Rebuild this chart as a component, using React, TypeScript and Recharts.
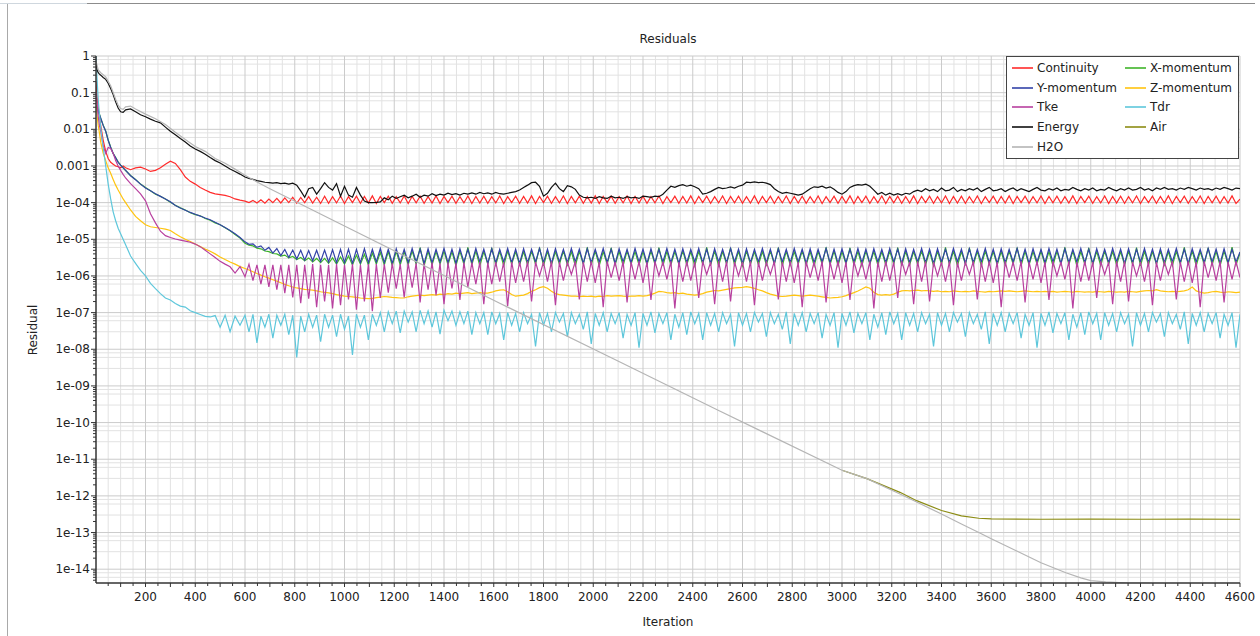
import React from "react";
import { LineChart, Line, XAxis, YAxis, CartesianGrid } from "recharts";

const FONT = "'DejaVu Sans', Verdana, sans-serif";

// iterations 1..580 sampled unevenly, then every 16 up to 4600
const earlyIterations = [
  1, 5, 10, 15, 20, 30, 40, 50, 60, 70, 80, 90, 100, 110, 120, 140, 160, 180, 200,
  220, 240, 260, 280, 300, 320, 340, 360, 380, 400, 420, 440, 460, 480, 500, 520,
  540, 560, 580,
];
const lateIterations = Array.from({ length: 251 }, (_, i) => 600 + 16 * i);
const iterations = [...earlyIterations, ...lateIterations];

const continuity = [
  0.2, 0.08, 0.04, 0.022, 0.0126, 0.005, 0.0025, 0.0016, 0.00126, 0.00112, 0.001, 9.5e-4,
  8.9e-4, 1e-3, 8.9e-4, 7.9e-4, 8.9e-4, 9.3e-4, 8.3e-4, 7.1e-4, 7.6e-4, 8.9e-4, 1.12e-3,
  1.35e-3, 1.17e-3, 7.9e-4, 5e-4, 3.8e-4, 3.2e-4, 2.6e-4, 2.2e-4, 1.9e-4, 1.74e-4, 1.66e-4,
  1.58e-4, 1.45e-4, 1.26e-4, 1.17e-4,
  1.1e-4, 1.0e-4, 1.15e-4, 9.8e-5, 1.2e-4, 9.7e-5, 1.25e-4, 1.0e-4, 1.3e-4, 9.8e-5, // 600
  1.35e-4, 1.0e-4, 1.4e-4, 9.6e-5, 1.38e-4, 1.0e-4, 1.45e-4, 9.7e-5, 1.4e-4, 9.5e-5, // 760
  1.5e-4, 9.6e-5, 1.45e-4, 9.8e-5, 1.52e-4, 9.5e-5, 1.46e-4, 1.0e-4, 1.5e-4, 9.6e-5, // 920
  1.48e-4, 9.7e-5, 1.53e-4, 9.5e-5, 1.47e-4, 1.0e-4, 1.5e-4, 9.6e-5, 1.45e-4, 9.8e-5, // 1080
  1.52e-4, 9.5e-5, 1.48e-4, 9.9e-5, 1.5e-4, 9.6e-5, 1.46e-4, 9.7e-5, 1.53e-4, 9.5e-5, // 1240
  1.47e-4, 1.0e-4, 1.5e-4, 9.6e-5, 1.45e-4, 9.8e-5, 1.52e-4, 9.5e-5, 1.48e-4, 9.7e-5, // 1400
  1.5e-4, 9.6e-5, 1.45e-4, 9.8e-5, 1.52e-4, 9.5e-5, 1.46e-4, 1.0e-4, 1.5e-4, 9.6e-5, // 1560
  1.48e-4, 9.7e-5, 1.53e-4, 9.5e-5, 1.47e-4, 1.0e-4, 1.5e-4, 9.6e-5, 1.45e-4, 9.8e-5, // 1720
  1.52e-4, 9.5e-5, 1.48e-4, 9.9e-5, 1.5e-4, 9.6e-5, 1.46e-4, 9.7e-5, 1.53e-4, 9.5e-5, // 1880
  1.47e-4, 1.0e-4, 1.5e-4, 9.6e-5, 1.45e-4, 9.8e-5, 1.52e-4, 9.5e-5, 1.48e-4, 9.7e-5, // 2040
  1.5e-4, 9.6e-5, 1.45e-4, 9.8e-5, 1.52e-4, 9.5e-5, 1.46e-4, 1.0e-4, 1.5e-4, 9.6e-5, // 2200
  1.48e-4, 9.7e-5, 1.53e-4, 9.5e-5, 1.47e-4, 1.0e-4, 1.5e-4, 9.6e-5, 1.45e-4, 9.8e-5, // 2360
  1.52e-4, 9.5e-5, 1.48e-4, 9.9e-5, 1.5e-4, 9.6e-5, 1.46e-4, 9.7e-5, 1.53e-4, 9.5e-5, // 2520
  1.47e-4, 1.0e-4, 1.5e-4, 9.6e-5, 1.45e-4, 9.8e-5, 1.52e-4, 9.5e-5, 1.48e-4, 9.7e-5, // 2680
  1.5e-4, 9.6e-5, 1.45e-4, 9.8e-5, 1.52e-4, 9.5e-5, 1.46e-4, 1.0e-4, 1.5e-4, 9.6e-5, // 2840
  1.48e-4, 9.7e-5, 1.53e-4, 9.5e-5, 1.47e-4, 1.0e-4, 1.5e-4, 9.6e-5, 1.45e-4, 9.8e-5, // 3000
  1.52e-4, 9.5e-5, 1.48e-4, 9.9e-5, 1.5e-4, 9.6e-5, 1.46e-4, 9.7e-5, 1.53e-4, 9.5e-5, // 3160
  1.47e-4, 1.0e-4, 1.5e-4, 9.6e-5, 1.45e-4, 9.8e-5, 1.52e-4, 9.5e-5, 1.48e-4, 9.7e-5, // 3320
  1.5e-4, 9.6e-5, 1.45e-4, 9.8e-5, 1.52e-4, 9.5e-5, 1.46e-4, 1.0e-4, 1.5e-4, 9.6e-5, // 3480
  1.48e-4, 9.7e-5, 1.53e-4, 9.5e-5, 1.47e-4, 1.0e-4, 1.5e-4, 9.6e-5, 1.45e-4, 9.8e-5, // 3640
  1.52e-4, 9.5e-5, 1.48e-4, 9.9e-5, 1.5e-4, 9.6e-5, 1.46e-4, 9.7e-5, 1.53e-4, 9.5e-5, // 3800
  1.47e-4, 1.0e-4, 1.5e-4, 9.6e-5, 1.45e-4, 9.8e-5, 1.52e-4, 9.5e-5, 1.48e-4, 9.7e-5, // 3960
  1.5e-4, 9.6e-5, 1.45e-4, 9.8e-5, 1.52e-4, 9.5e-5, 1.46e-4, 1.0e-4, 1.5e-4, 9.6e-5, // 4120
  1.48e-4, 9.7e-5, 1.53e-4, 9.5e-5, 1.47e-4, 1.0e-4, 1.5e-4, 9.6e-5, 1.45e-4, 9.8e-5, // 4280
  1.52e-4, 9.5e-5, 1.48e-4, 9.9e-5, 1.5e-4, 9.6e-5, 1.46e-4, 9.7e-5, 1.53e-4, 9.5e-5, // 4440
  1.25e-4,
];

const xMomentum = [
  0.045, 0.039, 0.033, 0.026, 0.02, 0.013, 0.009, 0.0051, 0.0033, 0.0022, 0.0017, 0.0013,
  0.00105, 9e-4, 7.5e-4, 5.5e-4, 4.3e-4, 3.2e-4, 2.6e-4, 2.1e-4, 1.7e-4, 1.5e-4, 1.25e-4,
  1.03e-4, 8.5e-5, 7.2e-5, 6.3e-5, 5.3e-5, 4.7e-5, 4.4e-5, 3.7e-5, 3.3e-5, 2.8e-5, 2.5e-5,
  2.05e-5, 1.7e-5, 1.35e-5, 1.08e-5,
  7.8e-6, 6.9e-6, 6.6e-6, 5.7e-6, 5.5e-6, 4.8e-6, 4.6e-6, 4.1e-6, 4.0e-6, 3.5e-6, // 600
  3.7e-6, 3.1e-6, 3.4e-6, 2.8e-6, 3.2e-6, 2.6e-6, 3.1e-6, 2.4e-6, 3.0e-6, 2.3e-6, // 760
  3.0e-6, 2.2e-6, 3.1e-6, 2.1e-6, 3.3e-6, 2.1e-6, 3.5e-6, 2.0e-6, 3.7e-6, 2.1e-6, // 920
  3.9e-6, 2.0e-6, 4.2e-6, 2.1e-6, 4.4e-6, 2.0e-6, 4.6e-6, 1.9e-6, 4.7e-6, 2.0e-6, // 1080
  4.6e-6, 2.0e-6, 4.8e-6, 2.1e-6, 5.9e-6, 1.9e-6, 4.7e-6, 2.0e-6, 4.6e-6, 2.1e-6, // 1240
  4.8e-6, 2.0e-6, 4.6e-6, 1.9e-6, 4.7e-6, 2.1e-6, 6.0e-6, 2.0e-6, 4.8e-6, 1.9e-6, // 1400
  4.6e-6, 2.1e-6, 5.8e-6, 2.0e-6, 4.7e-6, 1.9e-6, 4.8e-6, 2.1e-6, 4.6e-6, 2.0e-6, // 1560
  4.6e-6, 2.0e-6, 4.8e-6, 2.1e-6, 5.9e-6, 1.9e-6, 4.7e-6, 2.0e-6, 4.6e-6, 2.1e-6, // 1720
  4.8e-6, 2.0e-6, 4.6e-6, 1.9e-6, 4.7e-6, 2.1e-6, 6.0e-6, 2.0e-6, 4.8e-6, 1.9e-6, // 1880
  4.6e-6, 2.1e-6, 5.8e-6, 2.0e-6, 4.7e-6, 1.9e-6, 4.8e-6, 2.1e-6, 4.6e-6, 2.0e-6, // 2040
  4.6e-6, 2.0e-6, 4.8e-6, 2.1e-6, 5.9e-6, 1.9e-6, 4.7e-6, 2.0e-6, 4.6e-6, 2.1e-6, // 2200
  4.8e-6, 2.0e-6, 4.6e-6, 1.9e-6, 4.7e-6, 2.1e-6, 6.0e-6, 2.0e-6, 4.8e-6, 1.9e-6, // 2360
  4.6e-6, 2.1e-6, 5.8e-6, 2.0e-6, 4.7e-6, 1.9e-6, 4.8e-6, 2.1e-6, 4.6e-6, 2.0e-6, // 2520
  4.6e-6, 2.0e-6, 4.8e-6, 2.1e-6, 5.9e-6, 1.9e-6, 4.7e-6, 2.0e-6, 4.6e-6, 2.1e-6, // 2680
  4.8e-6, 2.0e-6, 4.6e-6, 1.9e-6, 4.7e-6, 2.1e-6, 6.0e-6, 2.0e-6, 4.8e-6, 1.9e-6, // 2840
  4.6e-6, 2.1e-6, 5.8e-6, 2.0e-6, 4.7e-6, 1.9e-6, 4.8e-6, 2.1e-6, 4.6e-6, 2.0e-6, // 3000
  4.6e-6, 2.0e-6, 4.8e-6, 2.1e-6, 5.9e-6, 1.9e-6, 4.7e-6, 2.0e-6, 4.6e-6, 2.1e-6, // 3160
  4.8e-6, 2.0e-6, 4.6e-6, 1.9e-6, 4.7e-6, 2.1e-6, 6.0e-6, 2.0e-6, 4.8e-6, 1.9e-6, // 3320
  4.6e-6, 2.1e-6, 5.8e-6, 2.0e-6, 4.7e-6, 1.9e-6, 4.8e-6, 2.1e-6, 4.6e-6, 2.0e-6, // 3480
  4.6e-6, 2.0e-6, 4.8e-6, 2.1e-6, 5.9e-6, 1.9e-6, 4.7e-6, 2.0e-6, 4.6e-6, 2.1e-6, // 3640
  4.8e-6, 2.0e-6, 4.6e-6, 1.9e-6, 4.7e-6, 2.1e-6, 6.0e-6, 2.0e-6, 4.8e-6, 1.9e-6, // 3800
  4.6e-6, 2.1e-6, 5.8e-6, 2.0e-6, 4.7e-6, 1.9e-6, 4.8e-6, 2.1e-6, 4.6e-6, 2.0e-6, // 3960
  4.6e-6, 2.0e-6, 4.8e-6, 2.1e-6, 5.9e-6, 1.9e-6, 4.7e-6, 2.0e-6, 4.6e-6, 2.1e-6, // 4120
  4.8e-6, 2.0e-6, 4.6e-6, 1.9e-6, 4.7e-6, 2.1e-6, 6.0e-6, 2.0e-6, 4.8e-6, 1.9e-6, // 4280
  4.6e-6, 2.1e-6, 5.8e-6, 2.0e-6, 4.7e-6, 1.9e-6, 4.8e-6, 2.1e-6, 6.1e-6, 2.0e-6, // 4440
  4.2e-6,
];

const yMomentum = [
  0.044, 0.038, 0.032, 0.025, 0.02, 0.0126, 0.0089, 0.005, 0.0032, 0.0022, 0.00166, 0.00126,
  0.00105, 8.9e-4, 7.6e-4, 5.4e-4, 4.2e-4, 3.2e-4, 2.5e-4, 2.1e-4, 1.74e-4, 1.48e-4, 1.26e-4,
  1.05e-4, 8.3e-5, 7.1e-5, 6.2e-5, 5.4e-5, 4.8e-5, 4.3e-5, 3.8e-5, 3.4e-5, 2.9e-5, 2.5e-5,
  2.1e-5, 1.74e-5, 1.41e-5, 1.12e-5,
  8.5e-6, 7.3e-6, 7.5e-6, 6.0e-6, 6.6e-6, 5.0e-6, 6.0e-6, 4.2e-6, 5.6e-6, 3.6e-6, // 600
  5.3e-6, 3.2e-6, 5.1e-6, 2.9e-6, 5.0e-6, 2.7e-6, 4.9e-6, 2.6e-6, 5.0e-6, 2.5e-6, // 760
  5.1e-6, 2.4e-6, 5.2e-6, 2.3e-6, 5.3e-6, 2.3e-6, 5.4e-6, 2.2e-6, 5.3e-6, 2.3e-6, // 920
  5.5e-6, 2.3e-6, 5.3e-6, 2.4e-6, 5.6e-6, 2.3e-6, 5.4e-6, 2.2e-6, 5.5e-6, 2.4e-6, // 1080
  5.3e-6, 2.3e-6, 5.6e-6, 2.4e-6, 5.4e-6, 2.2e-6, 5.5e-6, 2.3e-6, 5.3e-6, 2.4e-6, // 1240
  5.6e-6, 2.3e-6, 5.4e-6, 2.2e-6, 5.5e-6, 2.4e-6, 5.3e-6, 2.3e-6, 5.6e-6, 2.4e-6, // 1400
  5.4e-6, 2.2e-6, 5.5e-6, 2.3e-6, 5.3e-6, 2.4e-6, 5.6e-6, 2.3e-6, 5.4e-6, 2.2e-6, // 1560
  5.5e-6, 2.3e-6, 5.3e-6, 2.4e-6, 5.6e-6, 2.3e-6, 5.4e-6, 2.2e-6, 5.5e-6, 2.4e-6, // 1720
  5.3e-6, 2.3e-6, 5.6e-6, 2.4e-6, 5.4e-6, 2.2e-6, 5.5e-6, 2.3e-6, 5.3e-6, 2.4e-6, // 1880
  5.6e-6, 2.3e-6, 5.4e-6, 2.2e-6, 5.5e-6, 2.4e-6, 5.3e-6, 2.3e-6, 5.6e-6, 2.4e-6, // 2040
  5.4e-6, 2.2e-6, 5.5e-6, 2.3e-6, 5.3e-6, 2.4e-6, 5.6e-6, 2.3e-6, 5.4e-6, 2.2e-6, // 2200
  5.5e-6, 2.3e-6, 5.3e-6, 2.4e-6, 5.6e-6, 2.3e-6, 5.4e-6, 2.2e-6, 5.5e-6, 2.4e-6, // 2360
  5.3e-6, 2.3e-6, 5.6e-6, 2.4e-6, 5.4e-6, 2.2e-6, 5.5e-6, 2.3e-6, 5.3e-6, 2.4e-6, // 2520
  5.6e-6, 2.3e-6, 5.4e-6, 2.2e-6, 5.5e-6, 2.4e-6, 5.3e-6, 2.3e-6, 5.6e-6, 2.4e-6, // 2680
  5.4e-6, 2.2e-6, 5.5e-6, 2.3e-6, 5.3e-6, 2.4e-6, 5.6e-6, 2.3e-6, 5.4e-6, 2.2e-6, // 2840
  5.5e-6, 2.3e-6, 5.3e-6, 2.4e-6, 5.6e-6, 2.3e-6, 5.4e-6, 2.2e-6, 5.5e-6, 2.4e-6, // 3000
  5.3e-6, 2.3e-6, 5.6e-6, 2.4e-6, 5.4e-6, 2.2e-6, 5.5e-6, 2.3e-6, 5.3e-6, 2.4e-6, // 3160
  5.6e-6, 2.3e-6, 5.4e-6, 2.2e-6, 5.5e-6, 2.4e-6, 5.3e-6, 2.3e-6, 5.6e-6, 2.4e-6, // 3320
  5.4e-6, 2.2e-6, 5.5e-6, 2.3e-6, 5.3e-6, 2.4e-6, 5.6e-6, 2.3e-6, 5.4e-6, 2.2e-6, // 3480
  5.5e-6, 2.3e-6, 5.3e-6, 2.4e-6, 5.6e-6, 2.3e-6, 5.4e-6, 2.2e-6, 5.5e-6, 2.4e-6, // 3640
  5.3e-6, 2.3e-6, 5.6e-6, 2.4e-6, 5.4e-6, 2.2e-6, 5.5e-6, 2.3e-6, 5.3e-6, 2.4e-6, // 3800
  5.6e-6, 2.3e-6, 5.4e-6, 2.2e-6, 5.5e-6, 2.4e-6, 5.3e-6, 2.3e-6, 5.6e-6, 2.4e-6, // 3960
  5.4e-6, 2.2e-6, 5.5e-6, 2.3e-6, 5.3e-6, 2.4e-6, 5.6e-6, 2.3e-6, 5.4e-6, 2.2e-6, // 4120
  5.5e-6, 2.3e-6, 5.3e-6, 2.4e-6, 5.6e-6, 2.3e-6, 5.4e-6, 2.2e-6, 5.5e-6, 2.4e-6, // 4280
  5.3e-6, 2.3e-6, 5.6e-6, 2.4e-6, 5.4e-6, 2.2e-6, 5.5e-6, 2.3e-6, 5.3e-6, 2.4e-6, // 4440
  4.5e-6,
];

const zMomentum = [
  0.045, 0.025, 0.0126, 0.0079, 0.0045, 0.0022, 0.0014, 8.9e-4, 6.3e-4, 4.3e-4, 3e-4, 2.2e-4,
  1.66e-4, 1.26e-4, 1e-4, 6.3e-5, 4.2e-5, 3.2e-5, 2.5e-5, 2.2e-5, 2.1e-5, 2e-5, 1.9e-5,
  1.74e-5, 1.41e-5, 1.17e-5, 1e-5, 8.7e-6, 7.4e-6, 6.3e-6, 5.4e-6, 4.7e-6, 4e-6, 3.3e-6,
  2.8e-6, 2.4e-6, 2.1e-6, 1.8e-6,
  1.6e-6, 1.45e-6, 1.3e-6, 1.17e-6, 1.05e-6, 9.5e-7, 8.7e-7, 7.9e-7, 7.2e-7, 6.5e-7, // 600
  5.9e-7, 5.4e-7, 5.0e-7, 4.7e-7, 4.5e-7, 4.3e-7, 4.2e-7, 4.1e-7, 3.9e-7, 3.7e-7, // 760
  3.55e-7, 3.45e-7, 3.3e-7, 3.1e-7, 2.95e-7, 2.8e-7, 2.75e-7, 2.7e-7, 2.6e-7, 2.5e-7, // 920
  2.45e-7, 2.4e-7, 2.45e-7, 2.55e-7, 2.65e-7, 2.75e-7, 2.7e-7, 2.6e-7, 2.55e-7, 2.5e-7, // 1080
  2.5e-7, 2.7e-7, 2.8e-7, 2.9e-7, 3.0e-7, 2.9e-7, 3.0e-7, 3.1e-7, 3.0e-7, 3.2e-7, // 1240
  3.1e-7, 3.3e-7, 3.2e-7, 3.4e-7, 3.3e-7, 3.4e-7, 3.5e-7, 3.3e-7, 3.4e-7, 3.5e-7, // 1400
  3.4e-7, 3.4e-7, 3.6e-7, 3.9e-7, 4.1e-7, 4.2e-7, 3.7e-7, 3.1e-7, 2.8e-7, 2.9e-7, // 1560
  3.0e-7, 3.3e-7, 3.8e-7, 4.2e-7, 4.8e-7, 5.1e-7, 4.6e-7, 3.8e-7, 3.3e-7, 3.1e-7, // 1720
  3.0e-7, 2.9e-7, 2.8e-7, 2.8e-7, 2.75e-7, 2.8e-7, 2.75e-7, 2.8e-7, 2.7e-7, 2.8e-7, // 1880
  2.75e-7, 2.9e-7, 2.8e-7, 2.85e-7, 2.9e-7, 2.8e-7, 2.75e-7, 2.8e-7, 2.8e-7, 2.9e-7, // 2040
  2.8e-7, 2.9e-7, 3.1e-7, 3.4e-7, 3.8e-7, 3.7e-7, 3.5e-7, 3.4e-7, 3.5e-7, 3.3e-7, // 2200
  3.4e-7, 3.2e-7, 3.1e-7, 3.0e-7, 3.1e-7, 3.3e-7, 3.6e-7, 3.8e-7, 4.0e-7, 3.9e-7, // 2360
  4.1e-7, 4.3e-7, 4.5e-7, 4.7e-7, 4.8e-7, 4.9e-7, 5.1e-7, 4.9e-7, 4.6e-7, 4.2e-7, // 2520
  3.9e-7, 3.5e-7, 3.2e-7, 3.0e-7, 2.8e-7, 2.75e-7, 2.8e-7, 2.9e-7, 3.0e-7, 2.9e-7, // 2680
  2.8e-7, 2.9e-7, 3.0e-7, 2.9e-7, 2.8e-7, 2.7e-7, 2.6e-7, 2.5e-7, 2.55e-7, 2.6e-7, // 2840
  2.7e-7, 2.9e-7, 3.2e-7, 3.5e-7, 3.9e-7, 4.4e-7, 5.0e-7, 4.6e-7, 3.6e-7, 3.1e-7, // 3000
  3.0e-7, 3.1e-7, 3.0e-7, 3.2e-7, 3.6e-7, 3.9e-7, 4.0e-7, 3.9e-7, 4.0e-7, 4.1e-7, // 3160
  3.9e-7, 4.0e-7, 3.9e-7, 3.8e-7, 3.9e-7, 3.7e-7, 3.8e-7, 3.7e-7, 3.9e-7, 3.8e-7, // 3320
  3.7e-7, 3.8e-7, 3.7e-7, 3.9e-7, 3.8e-7, 3.7e-7, 3.6e-7, 3.8e-7, 3.7e-7, 3.8e-7, // 3480
  3.9e-7, 3.8e-7, 3.9e-7, 3.8e-7, 3.7e-7, 3.8e-7, 3.9e-7, 3.8e-7, 3.7e-7, 3.8e-7, // 3640
  3.7e-7, 3.8e-7, 3.7e-7, 3.8e-7, 3.6e-7, 3.7e-7, 3.8e-7, 3.7e-7, 3.6e-7, 3.8e-7, // 3800
  3.7e-7, 3.6e-7, 3.7e-7, 3.6e-7, 3.8e-7, 3.7e-7, 3.6e-7, 3.8e-7, 3.7e-7, 3.6e-7, // 3960
  3.7e-7, 3.6e-7, 3.8e-7, 3.7e-7, 3.6e-7, 3.8e-7, 3.9e-7, 4.0e-7, 3.9e-7, 4.2e-7, // 4120
  3.9e-7, 3.8e-7, 3.7e-7, 3.8e-7, 3.7e-7, 3.8e-7, 3.9e-7, 4.2e-7, 5.0e-7, 3.9e-7, // 4280
  3.6e-7, 3.4e-7, 3.5e-7, 3.7e-7, 3.8e-7, 3.6e-7, 3.5e-7, 3.7e-7, 3.6e-7, 3.5e-7, // 4440
  3.6e-7,
];

const tke = [
  0.1, 0.05, 0.022, 0.0126, 0.0089, 0.0035, 0.0022, 0.0032, 0.003, 0.0022, 0.0014, 0.001,
  7.6e-4, 5.9e-4, 4.7e-4, 3.3e-4, 2.4e-4, 1.74e-4, 1.12e-4, 5e-5, 2.8e-5, 1.66e-5, 1.26e-5,
  1.12e-5, 1.02e-5, 9.5e-6, 8.9e-6, 8.3e-6, 7.4e-6, 6.3e-6, 5e-6, 4e-6, 3.2e-6, 2.5e-6,
  2.1e-6, 1.78e-6, 1.2e-6, 1.8e-6,
  9.5e-7, 2.1e-6, 7.5e-7, 2.0e-6, 6e-7, 2.0e-6, 5e-7, 2.0e-6, 4.2e-7, 2.0e-6, // 600
  3.4e-7, 2.0e-6, 2.6e-7, 2.0e-6, 1.8e-7, 2.0e-6, 2.4e-7, 2.1e-6, 1.4e-7, 2.0e-6, // 760
  2.0e-7, 2.0e-6, 1.3e-7, 2.1e-6, 1.6e-7, 2.0e-6, 2.3e-7, 2.1e-6, 1.2e-7, 2.0e-6, // 920
  2.0e-7, 2.1e-6, 1.1e-7, 2.1e-6, 2.5e-7, 2.1e-6, 3.5e-7, 2.2e-6, 4.5e-7, 2.1e-6, // 1080
  2.6e-7, 2.2e-6, 4.8e-7, 2.2e-6, 1.9e-7, 2.2e-6, 4.2e-7, 2.3e-6, 3e-7, 2.2e-6, // 1240
  1.7e-7, 2.3e-6, 4.6e-7, 2.2e-6, 2.2e-7, 2.3e-6, 5e-7, 2.3e-6, 6e-7, 2.4e-6, // 1400
  1.7e-7, 2.3e-6, 6e-7, 2.4e-6, 7e-7, 2.4e-6, 1.5e-7, 2.4e-6, 6.5e-7, 2.4e-6, // 1560
  7e-7, 2.5e-6, 2e-7, 2.4e-6, 1e-6, 2.4e-6, 7e-7, 2.5e-6, 1.6e-7, 2.4e-6, // 1720
  7.5e-7, 2.4e-6, 1.1e-6, 2.5e-6, 2.3e-7, 2.4e-6, 7e-7, 2.5e-6, 6.5e-7, 2.4e-6, // 1880
  1.4e-7, 2.5e-6, 9e-7, 2.4e-6, 7.5e-7, 2.5e-6, 1.9e-7, 2.4e-6, 8e-7, 2.5e-6, // 2040
  6.5e-7, 2.4e-6, 2.2e-7, 2.5e-6, 1e-6, 2.4e-6, 8e-7, 2.5e-6, 1.3e-7, 2.4e-6, // 2200
  7e-7, 2.5e-6, 7.5e-7, 2.4e-6, 2.5e-7, 2.5e-6, 1.1e-6, 2.4e-6, 1.7e-7, 2.5e-6, // 2360
  7e-7, 2.5e-6, 2e-7, 2.4e-6, 1e-6, 2.4e-6, 7e-7, 2.5e-6, 1.6e-7, 2.4e-6, // 2520
  7.5e-7, 2.4e-6, 1.1e-6, 2.5e-6, 2.3e-7, 2.4e-6, 7e-7, 2.5e-6, 6.5e-7, 2.4e-6, // 2680
  1.4e-7, 2.5e-6, 9e-7, 2.4e-6, 7.5e-7, 2.5e-6, 1.9e-7, 2.4e-6, 8e-7, 2.5e-6, // 2840
  6.5e-7, 2.4e-6, 2.2e-7, 2.5e-6, 1e-6, 2.4e-6, 8e-7, 2.5e-6, 1.3e-7, 2.4e-6, // 3000
  7e-7, 2.5e-6, 7.5e-7, 2.4e-6, 2.5e-7, 2.5e-6, 1.1e-6, 2.4e-6, 1.7e-7, 2.5e-6, // 3160
  7e-7, 2.5e-6, 2e-7, 2.4e-6, 1e-6, 2.4e-6, 7e-7, 2.5e-6, 1.6e-7, 2.4e-6, // 3320
  7.5e-7, 2.4e-6, 1.1e-6, 2.5e-6, 2.3e-7, 2.4e-6, 7e-7, 2.5e-6, 6.5e-7, 2.4e-6, // 3480
  1.4e-7, 2.5e-6, 9e-7, 2.4e-6, 7.5e-7, 2.5e-6, 1.9e-7, 2.4e-6, 8e-7, 2.5e-6, // 3640
  6.5e-7, 2.4e-6, 2.2e-7, 2.5e-6, 1e-6, 2.4e-6, 8e-7, 2.5e-6, 1.3e-7, 2.4e-6, // 3800
  7e-7, 2.5e-6, 7.5e-7, 2.4e-6, 2.5e-7, 2.5e-6, 1.1e-6, 2.4e-6, 1.7e-7, 2.5e-6, // 3960
  7e-7, 2.5e-6, 2e-7, 2.4e-6, 1e-6, 2.4e-6, 7e-7, 2.5e-6, 1.6e-7, 2.4e-6, // 4120
  7.5e-7, 2.4e-6, 1.1e-6, 2.5e-6, 2.3e-7, 2.4e-6, 7e-7, 2.5e-6, 6.5e-7, 2.4e-6, // 4280
  1.4e-7, 2.5e-6, 9e-7, 2.4e-6, 7.5e-7, 2.5e-6, 1.9e-7, 2.4e-6, 8e-7, 2.5e-6, // 4440
  9e-7,
];

const tdr = [
  1, 0.25, 0.063, 0.025, 0.011, 0.0032, 0.001, 3.2e-4, 1.26e-4, 5.6e-5, 3.2e-5, 2e-5,
  1.41e-5, 1e-5, 7.1e-6, 3.5e-6, 2.2e-6, 1.41e-6, 1e-6, 6.3e-7, 4.5e-7, 3.3e-7, 2.5e-7,
  2.2e-7, 1.78e-7, 1.5e-7, 1.41e-7, 1.12e-7, 1e-7, 8.9e-8, 7.9e-8, 7.6e-8, 8.3e-8, 4e-8,
  8.5e-8, 3e-8, 8e-8, 4.5e-8,
  8.5e-8, 3e-8, 9e-8, 1.5e-8, 8e-8, 4e-8, 9e-8, 2e-8, 8.5e-8, 4.5e-8, // 600
  9e-8, 2.5e-8, 8.5e-8, 6e-9, 8e-8, 3e-8, 9e-8, 4e-8, 8.5e-8, 1.6e-8, // 760
  9e-8, 4e-8, 8.5e-8, 2.2e-8, 9e-8, 3.5e-8, 8e-8, 7e-9, 9e-8, 4e-8, // 920
  8.5e-8, 1.8e-8, 9e-8, 4.5e-8, 1e-7, 3e-8, 1.05e-7, 5e-8, 1.1e-7, 2.8e-8, // 1080
  1.1e-7, 5.5e-8, 1.05e-7, 3e-8, 1.15e-7, 5e-8, 1.1e-7, 4e-8, 1.05e-7, 2.6e-8, // 1240
  1.15e-7, 6e-8, 1.1e-7, 4.5e-8, 1.05e-7, 5e-8, 1.1e-7, 2.5e-8, 1e-7, 5e-8, // 1400
  1e-7, 2.5e-8, 1.05e-7, 5e-8, 9.5e-8, 1.8e-8, 1e-7, 4.5e-8, 9.5e-8, 3e-8, // 1560
  1e-7, 5e-8, 9e-8, 1.2e-8, 1e-7, 4.5e-8, 9.5e-8, 3e-8, 1e-7, 5.5e-8, // 1720
  9.5e-8, 2.2e-8, 1e-7, 5e-8, 9e-8, 3.5e-8, 1.05e-7, 1.4e-8, 9.5e-8, 4.5e-8, // 1880
  1e-7, 3e-8, 9.5e-8, 5e-8, 1e-7, 2e-8, 9e-8, 4.5e-8, 1e-7, 1.1e-8, // 2040
  9.5e-8, 4.5e-8, 1.05e-7, 2.8e-8, 9.5e-8, 5e-8, 1e-7, 1.8e-8, 9e-8, 4e-8, // 2200
  1e-7, 2.5e-8, 1.05e-7, 5e-8, 9.5e-8, 1.8e-8, 1e-7, 4.5e-8, 9.5e-8, 3e-8, // 2360
  1e-7, 5e-8, 9e-8, 1.2e-8, 1e-7, 4.5e-8, 9.5e-8, 3e-8, 1e-7, 5.5e-8, // 2520
  9.5e-8, 2.2e-8, 1e-7, 5e-8, 9e-8, 3.5e-8, 1.05e-7, 1.4e-8, 9.5e-8, 4.5e-8, // 2680
  1e-7, 3e-8, 9.5e-8, 5e-8, 1e-7, 2e-8, 9e-8, 4.5e-8, 1e-7, 1.1e-8, // 2840
  9.5e-8, 4.5e-8, 1.05e-7, 2.8e-8, 9.5e-8, 5e-8, 1e-7, 1.8e-8, 9e-8, 4e-8, // 3000
  1e-7, 2.5e-8, 1.05e-7, 5e-8, 9.5e-8, 1.8e-8, 1e-7, 4.5e-8, 9.5e-8, 3e-8, // 3160
  1e-7, 5e-8, 9e-8, 1.2e-8, 1e-7, 4.5e-8, 9.5e-8, 3e-8, 1e-7, 5.5e-8, // 3320
  9.5e-8, 2.2e-8, 1e-7, 5e-8, 9e-8, 3.5e-8, 1.05e-7, 1.4e-8, 9.5e-8, 4.5e-8, // 3480
  1e-7, 3e-8, 9.5e-8, 5e-8, 1e-7, 2e-8, 9e-8, 4.5e-8, 1e-7, 1.1e-8, // 3640
  9.5e-8, 4.5e-8, 1.05e-7, 2.8e-8, 9.5e-8, 5e-8, 1e-7, 1.8e-8, 9e-8, 4e-8, // 3800
  1e-7, 2.5e-8, 1.05e-7, 5e-8, 9.5e-8, 1.8e-8, 1e-7, 4.5e-8, 9.5e-8, 3e-8, // 3960
  1e-7, 5e-8, 9e-8, 1.2e-8, 1e-7, 4.5e-8, 9.5e-8, 3e-8, 1e-7, 5.5e-8, // 4120
  9.5e-8, 2.2e-8, 1e-7, 5e-8, 9e-8, 3.5e-8, 1.05e-7, 1.4e-8, 9.5e-8, 4.5e-8, // 4280
  1e-7, 3e-8, 9.5e-8, 5e-8, 1e-7, 2e-8, 9e-8, 4.5e-8, 1e-7, 1.1e-8, // 4440
  9e-8,
];

const energy = [
  0.63, 0.42, 0.35, 0.32, 0.3, 0.26, 0.23, 0.18, 0.13, 0.089, 0.056, 0.038, 0.03, 0.029,
  0.034, 0.036, 0.03, 0.025, 0.022, 0.019, 0.0166, 0.015, 0.0115, 0.0089, 0.0071, 0.0056,
  0.0045, 0.0035, 0.0029, 0.0025, 0.0021, 0.0017, 0.0014, 0.0012, 0.001, 8.3e-4, 7.1e-4, 6e-4,
  5e-4, 4.6e-4, 4.3e-4, 4e-4, 3.8e-4, 3.6e-4, 3.5e-4, 3.4e-4, 3.5e-4, 3.3e-4, // 600
  3.4e-4, 3.2e-4, 3.4e-4, 3e-4, 2.1e-4, 1.4e-4, 2.4e-4, 2.6e-4, 1.7e-4, 2.4e-4, // 760
  3.5e-4, 2.6e-4, 2.2e-4, 3.3e-4, 1.5e-4, 2.8e-4, 1.6e-4, 1.4e-4, 2.6e-4, 1.6e-4, // 920
  1.1e-4, 1.0e-4, 1.0e-4, 1.02e-4, 1.05e-4, 1.35e-4, 1.2e-4, 1.5e-4, 1.3e-4, 1.45e-4, // 1080
  1.6e-4, 1.35e-4, 1.5e-4, 1.7e-4, 1.4e-4, 1.6e-4, 1.5e-4, 1.75e-4, 1.55e-4, 1.7e-4, // 1240
  1.6e-4, 1.8e-4, 1.65e-4, 1.75e-4, 1.6e-4, 1.8e-4, 1.7e-4, 1.85e-4, 1.7e-4, 1.9e-4, // 1400
  1.75e-4, 1.85e-4, 1.7e-4, 1.9e-4, 1.75e-4, 1.7e-4, 1.8e-4, 1.9e-4, 2.0e-4, 2.2e-4, // 1560
  2.6e-4, 3.0e-4, 3.5e-4, 3.6e-4, 2.8e-4, 1.5e-4, 1.8e-4, 2.6e-4, 3.4e-4, 2.4e-4, // 1720
  2.0e-4, 2.9e-4, 2.7e-4, 2.3e-4, 1.6e-4, 1.4e-4, 1.35e-4, 1.4e-4, 1.3e-4, 1.45e-4, // 1880
  1.35e-4, 1.3e-4, 1.5e-4, 1.35e-4, 1.4e-4, 1.3e-4, 1.45e-4, 1.35e-4, 1.4e-4, 1.3e-4, // 2040
  1.5e-4, 1.45e-4, 1.4e-4, 1.5e-4, 1.45e-4, 1.7e-4, 2.2e-4, 2.8e-4, 2.6e-4, 2.9e-4, // 2200
  3.1e-4, 2.8e-4, 3.0e-4, 2.7e-4, 2.4e-4, 1.7e-4, 1.8e-4, 2.0e-4, 2.3e-4, 2.6e-4, // 2360
  2.4e-4, 2.5e-4, 2.7e-4, 2.5e-4, 2.8e-4, 3.0e-4, 3.6e-4, 3.5e-4, 3.7e-4, 3.5e-4, // 2520
  3.6e-4, 3.4e-4, 3.1e-4, 2.4e-4, 2.0e-4, 1.8e-4, 1.9e-4, 1.8e-4, 1.7e-4, 1.6e-4, // 2680
  1.7e-4, 2.0e-4, 2.4e-4, 2.7e-4, 2.6e-4, 2.8e-4, 2.5e-4, 2.7e-4, 2.3e-4, 1.9e-4, // 2840
  1.7e-4, 2.0e-4, 2.6e-4, 2.9e-4, 3.1e-4, 3.0e-4, 3.2e-4, 2.8e-4, 2.2e-4, 1.7e-4, // 3000
  1.9e-4, 1.6e-4, 1.8e-4, 1.6e-4, 1.75e-4, 1.6e-4, 1.8e-4, 1.7e-4, 2.0e-4, 2.2e-4, // 3160
  2.0e-4, 2.4e-4, 2.1e-4, 2.3e-4, 2.0e-4, 2.5e-4, 2.1e-4, 2.2e-4, 2.6e-4, 2.0e-4, // 3320
  2.3e-4, 2.1e-4, 2.4e-4, 2.2e-4, 2.5e-4, 2.0e-4, 2.3e-4, 2.6e-4, 2.1e-4, 2.2e-4, // 3480
  2.4e-4, 2.0e-4, 2.3e-4, 2.5e-4, 2.1e-4, 2.4e-4, 2.2e-4, 2.0e-4, 2.3e-4, 2.6e-4, // 3640
  2.2e-4, 2.1e-4, 2.4e-4, 2.2e-4, 2.5e-4, 2.1e-4, 2.3e-4, 2.2e-4, 2.6e-4, 2.3e-4, // 3800
  2.1e-4, 2.4e-4, 2.2e-4, 2.5e-4, 2.1e-4, 2.3e-4, 2.2e-4, 2.6e-4, 2.3e-4, 2.1e-4, // 3960
  2.4e-4, 2.2e-4, 2.5e-4, 2.2e-4, 2.3e-4, 2.6e-4, 2.2e-4, 2.4e-4, 2.1e-4, 2.5e-4, // 4120
  2.3e-4, 2.6e-4, 2.3e-4, 2.4e-4, 2.2e-4, 2.5e-4, 2.3e-4, 2.6e-4, 2.4e-4, 2.2e-4, // 4280
  2.5e-4, 2.3e-4, 2.4e-4, 2.2e-4, 2.5e-4, 2.3e-4, 2.6e-4, 2.4e-4, 2.2e-4, 2.5e-4, // 4440
  2.4e-4,
];

// H2O is smooth, so it gets a sparser grid of its own
const h2oIterations = [
  1, 10, 20, 40, 60, 80, 90, 100, 110, 120, 140, 160, 200, 240, 280, 320, 360, 400, 440,
  480, 520, 560, 600, 650, 700, 1000, 1624, 2093, 2500, 3000, 3100, 3233, 3300, 3400, 3480,
  3550, 3600, 3800, 3900, 3960, 4000, 4060, 4150, 4300, 4600,
];
const h2o = [
  0.72, 0.42, 0.35, 0.27, 0.155, 0.066, 0.046, 0.037, 0.035, 0.041, 0.043, 0.036, 0.026,
  0.0195, 0.0135, 0.0083, 0.0053, 0.0034, 0.0025, 0.0016, 0.00118, 8.2e-4, 5.6e-4, 3.6e-4,
  2.4e-4, 2.3e-5, 1.8e-7, 5e-9, 2.2e-10, 5e-12, 2.95e-12, 1.12e-12, 6.8e-13, 3.2e-13, 1.7e-13,
  1e-13, 6.8e-14, 1.5e-14, 8e-15, 5.8e-15, 4.9e-15, 4.5e-15, 4.2e-15, 4.0e-15, 3.9e-15,
];
// Air lies under H2O until it levels off, so only its visible part is kept
const airIterations = [3000, 3100, 3233, 3300, 3400, 3480, 3550, 3600, 3800, 4000, 4200, 4400, 4600];
const air = [
  5e-12, 2.95e-12, 1.25e-12, 7.4e-13, 4e-13, 2.85e-13, 2.45e-13, 2.35e-13, 2.3e-13, 2.32e-13,
  2.3e-13, 2.31e-13, 2.3e-13,
];

const decadeTicks = [
  1, 0.1, 0.01, 0.001, 1e-4, 1e-5, 1e-6, 1e-7, 1e-8, 1e-9, 1e-10, 1e-11, 1e-12, 1e-13, 1e-14,
];
const xTicks = Array.from({ length: 92 }, (_, i) => 50 * (i + 1));

const rows = iterations.map((it, i) => ({
  it,
  continuity: continuity[i],
  xMomentum: xMomentum[i],
  yMomentum: yMomentum[i],
  zMomentum: zMomentum[i],
  tke: tke[i],
  tdr: tdr[i],
  energy: energy[i],
}));
const h2oRows = h2oIterations.map((it, i) => ({ it, h2o: h2o[i] }));
const airRows = airIterations.map((it, i) => ({ it, air: air[i] }));

const SERIES = [
  { key: "continuity", name: "Continuity", color: "#ff2b2b" },
  { key: "xMomentum", name: "X-momentum", color: "#3fb52a" },
  { key: "yMomentum", name: "Y-momentum", color: "#3343a8" },
  { key: "zMomentum", name: "Z-momentum", color: "#ffc40f" },
  { key: "tke", name: "Tke", color: "#b8409f" },
  { key: "tdr", name: "Tdr", color: "#5ec7db" },
  { key: "energy", name: "Energy", color: "#111111" },
  { key: "air", name: "Air", color: "#8c8c14", data: airRows },
  { key: "h2o", name: "H2O", color: "#b5b5b5", data: h2oRows },
];

// log axis: minor ticks 2..9 in each decade, grid at 3, 6 and 8
const minorTicks = [1e-15, ...decadeTicks.slice(1)].flatMap((d) =>
  [2, 3, 4, 5, 6, 7, 8, 9].map((m) => d * m).filter((v) => v > 4.2e-15)
);
const yTicks = [...decadeTicks, ...minorTicks].sort((a, b) => a - b);
const gridMinorY = [1e-15, ...decadeTicks.slice(1)].flatMap((d) =>
  [3, 6, 8].map((m) => d * m).filter((v) => v > 4.2e-15)
);
const gridMinorX = xTicks.filter((v) => v % 200 !== 0);
const gridMajorX = xTicks.filter((v) => v % 200 === 0);

const decadeLabel = (e: number) => {
  if (e >= -3) return Math.pow(10, e).toFixed(-e);
  return `1e-${String(-e).padStart(2, "0")}`;
};

const renderYTick = (props: any) => {
  const { x, y, payload } = props;
  const e = Math.log10(payload.value);
  const major = Math.abs(e - Math.round(e)) < 1e-6;
  return (
    <g>
      <line x1={x - (major ? 5 : 3)} x2={x} y1={y} y2={y} stroke="#333" />
      {major && (
        <text x={x - 6} y={y} dy={4} textAnchor="end" fontSize={12} fill="#222" fontFamily={FONT}>
          {decadeLabel(Math.round(e))}
        </text>
      )}
    </g>
  );
};

const renderXTick = (props: any) => {
  const { x, y, payload } = props;
  const v = payload.value;
  const labelled = v % 200 === 0;
  return (
    <g>
      <line x1={x} x2={x} y1={y} y2={y + (v % 100 === 0 ? 4 : 3)} stroke="#333" />
      {labelled && (
        <text x={x} y={y + 18} textAnchor="middle" fontSize={12} fill="#222" fontFamily={FONT}>
          {v}
        </text>
      )}
    </g>
  );
};

const LegendBox = () => (
  <div
    style={{
      position: "absolute",
      left: 1006,
      top: 56,
      width: 233,
      height: 103,
      boxSizing: "border-box",
      border: "1px solid #444",
      background: "#fff",
      fontFamily: FONT,
      fontSize: 12,
      color: "#222",
    }}
  >
    {SERIES.map((s, i) => {
      const col = i % 2;
      const row = Math.floor(i / 2);
      return (
        <div
          key={s.key}
          style={{
            position: "absolute",
            left: col === 0 ? 5 : 118,
            top: 4 + row * 19.7,
            height: 14,
            display: "flex",
            alignItems: "center",
            whiteSpace: "nowrap",
          }}
        >
          <svg width={21} height={4} style={{ marginRight: 4, display: "block" }}>
            <line x1={0} x2={21} y1={2} y2={2} stroke={s.color} strokeWidth={1.6} />
          </svg>
          <span style={{ lineHeight: "14px" }}>{s.name}</span>
        </div>
      );
    })}
  </div>
);

export default function App() {
  return (
    <div
      style={{
        position: "fixed",
        left: 0,
        top: 0,
        width: 1260,
        height: 636,
        background: "#fff",
        overflow: "hidden",
        fontFamily: FONT,
      }}
    >
      <div style={{ position: "absolute", left: 0, top: 3, width: 87, borderTop: "1px solid #cfd7de" }} />
      <div style={{ position: "absolute", left: 87, top: 3, width: 1168, borderTop: "1px solid #8c8c8c" }} />
      <div style={{ position: "absolute", left: 7, top: 4, height: 640, borderLeft: "1px solid #a9a9a9" }} />

      <div style={{ position: "absolute", left: 0, top: 0 }}>
        <LineChart width={1260} height={636} data={rows} margin={{ top: 56, right: 20, bottom: 23, left: 6 }}>
          <CartesianGrid stroke="#e2e2e2" horizontalValues={gridMinorY} verticalValues={gridMinorX} />
          <CartesianGrid stroke="#cbcbcb" horizontalValues={decadeTicks} verticalValues={gridMajorX} />
          <XAxis
            type="number"
            dataKey="it"
            domain={[1, 4600]}
            allowDataOverflow
            ticks={xTicks}
            interval={0}
            tick={renderXTick}
            tickLine={false}
            tickSize={0}
            tickMargin={0}
            height={30}
            axisLine={{ stroke: "#333", strokeWidth: 1.5 }}
          />
          <YAxis
            type="number"
            scale="log"
            domain={[4.2e-15, 1]}
            allowDataOverflow
            ticks={yTicks}
            interval={0}
            tick={renderYTick}
            tickLine={false}
            tickSize={0}
            tickMargin={0}
            width={90}
            axisLine={{ stroke: "#333", strokeWidth: 1.5 }}
          />
          {SERIES.map((s) => (
            <Line
              key={s.key}
              data={s.data}
              dataKey={s.key}
              name={s.name}
              type="linear"
              stroke={s.color}
              strokeWidth={1.2}
              dot={false}
              activeDot={false}
              isAnimationActive={false}
            />
          ))}
        </LineChart>
      </div>

      <div
        style={{
          position: "absolute",
          left: 568,
          top: 32,
          width: 200,
          textAlign: "center",
          fontSize: 12,
          lineHeight: "14px",
          color: "#222",
        }}
      >
        Residuals
      </div>
      <div
        style={{
          position: "absolute",
          left: 568,
          top: 615,
          width: 200,
          textAlign: "center",
          fontSize: 12,
          lineHeight: "14px",
          color: "#222",
        }}
      >
        Iteration
      </div>
      <div
        style={{
          position: "absolute",
          left: -7,
          top: 323,
          width: 80,
          textAlign: "center",
          fontSize: 12,
          lineHeight: "14px",
          color: "#222",
          transform: "rotate(-90deg)",
        }}
      >
        Residual
      </div>
      <LegendBox />
    </div>
  );
}
